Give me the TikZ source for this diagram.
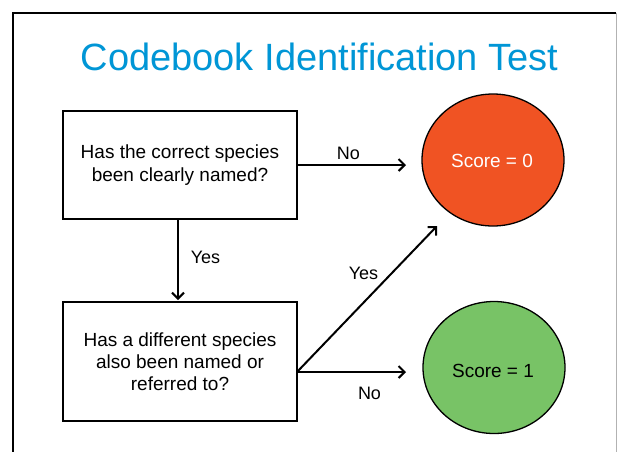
\documentclass[tikz,border=0pt]{standalone}
\usepackage{fontspec}
\setmainfont{Liberation Sans}
\usetikzlibrary{arrows.meta,shapes.geometric}
\definecolor{titleblue}{RGB}{0,150,214}
\definecolor{scorered}{RGB}{240,83,35}
\definecolor{scoregreen}{RGB}{120,195,102}
\begin{document}
\begin{tikzpicture}[x=1pt,y=-1pt,
  qbox/.style={draw=black,line width=1.6pt,rectangle,inner sep=0pt,align=center,
    font=\fontsize{19}{22.3}\selectfont},
  score/.style={ellipse,draw=black,line width=1.3pt,inner sep=0pt,
    minimum width=142pt,minimum height=132pt},
  scoretext/.style={inner sep=0pt,font=\fontsize{19}{22}\selectfont},
  flow/.style={line width=2pt,-{Straight Barb[length=6pt,width=12pt,line width=2pt]}},
  lbl/.style={font=\fontsize{18}{22}\selectfont,inner sep=0pt}]
\useasboundingbox (0,0) rectangle (618,451);
\fill[white] (0,0) rectangle (618,451);
% slide frame
\draw[black,line width=2pt] (13,452) -- (13,12.5) -- (616,12.5);
\draw[gray!60,line width=1pt] (616,12.5) -- (616,452);
% title
\node[text=titleblue,font=\fontsize{38}{44}\selectfont,inner sep=0pt] (title) at (319.5,57) {Codebook Identification Test};
% nodes
\node[qbox,minimum width=234pt,minimum height=108pt] (q1) at (180,165) {Has the correct species\\been clearly named?};
\node[qbox,minimum width=234pt,minimum height=119pt] (q2) at (180,361.5) {Has a different species\\also been named or\\referred to?};
\node[score,fill=scorered] (s0) at (493,160) {};
\node[score,fill=scoregreen] (s1) at (494,367.5) {};
\node[scoretext,text=white] (s0t) at (492,161) {Score = 0};
\node[scoretext,text=black] (s1t) at (493,371) {Score = 1};
% connector ends
\coordinate (q1top) at (178,220);
\coordinate (q1dn) at (178,300);
\coordinate (n1end) at (406,165);
\coordinate (q2out) at (297,372);
\coordinate (y2end) at (437,226);
\coordinate (n2end) at (406,372);
% connectors
\draw[flow] (q1.east) -- (n1end);
\draw[flow] (q1top) -- (q1dn);
\draw[flow] (q2out) -- (y2end);
\draw[flow] (q2out) -- (n2end);
% labels
\node[lbl] (lno1) at (348.5,153) {No};
\node[lbl] (lyes1) at (205.5,257) {Yes};
\node[lbl] (lyes2) at (363.5,273) {Yes};
\node[lbl] (lno2) at (369.5,393) {No};
\end{tikzpicture}
\end{document}
